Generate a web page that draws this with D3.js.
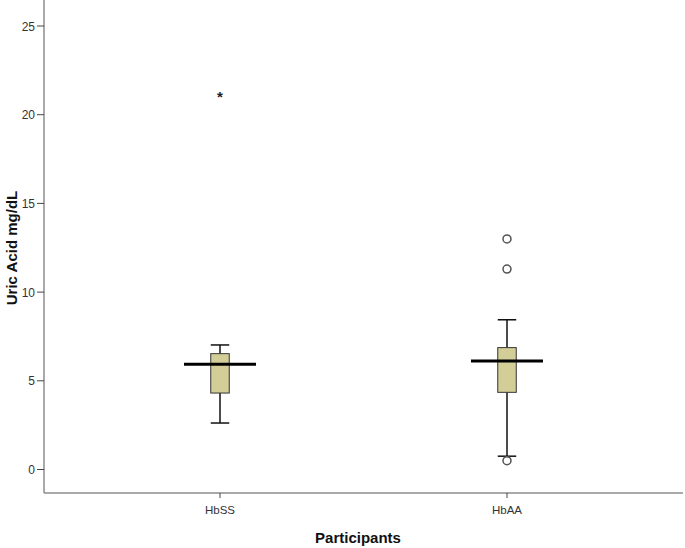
<!DOCTYPE html>
<html>
<head>
<meta charset="utf-8">
<script src="https://cdn.jsdelivr.net/npm/d3@7"></script>
<style>
  body { margin: 0; background: #fff; }
  text { font-family: "Liberation Sans", Arial, sans-serif; }
</style>
</head>
<body>
<svg id="chart" width="685" height="548"></svg>
<script>
// groups and box stats
var groups = ["HbSS", "HbAA"];
var whiskerLow = [2.62, 0.75];
var q1 = [4.31, 4.35];
var medians = [5.93, 6.12];
var q3 = [6.53, 6.87];
var whiskerHigh = [7.02, 8.44];
// outliers: circles, extremes: stars
var outliers = [[], [13.0, 11.3, 0.5]];
var extremes = [[21.05], []];
var yTicks = [0, 5, 10, 15, 20, 25];

var svg = d3.select("#chart");

var x = d3.scalePoint()
    .domain(groups)
    .range([220, 507]);

var y = d3.scaleLinear()
    .domain([0, 25])
    .range([469.5, 26]);

// axes lines
svg.append("line")
    .attr("x1", 44).attr("x2", 44)
    .attr("y1", 0).attr("y2", 493)
    .attr("stroke", "#8c8c8c").attr("stroke-width", 1.5);
svg.append("line")
    .attr("x1", 44).attr("x2", 683)
    .attr("y1", 493).attr("y2", 493)
    .attr("stroke", "#8c8c8c").attr("stroke-width", 1.5);

// y ticks
var yg = svg.append("g").attr("id", "yaxis");
yg.selectAll("line")
    .data(yTicks).enter()
    .append("line")
    .attr("x1", 37).attr("x2", 44)
    .attr("y1", function(d) { return y(d); })
    .attr("y2", function(d) { return y(d); })
    .attr("stroke", "#444").attr("stroke-width", 1);
yg.selectAll("text")
    .data(yTicks).enter()
    .append("text")
    .attr("x", 35)
    .attr("y", function(d) { return y(d) + 4.5; })
    .attr("text-anchor", "end")
    .attr("font-size", 12)
    .attr("fill", "#333")
    .text(function(d) { return d; });

// x ticks
var xg = svg.append("g").attr("id", "xaxis");
xg.selectAll("line")
    .data(groups).enter()
    .append("line")
    .attr("x1", function(d) { return x(d); })
    .attr("x2", function(d) { return x(d); })
    .attr("y1", 493).attr("y2", 498)
    .attr("stroke", "#444");
xg.selectAll("text")
    .data(groups).enter()
    .append("text")
    .attr("x", function(d) { return x(d); })
    .attr("y", 514)
    .attr("text-anchor", "middle")
    .attr("font-size", 11.5)
    .attr("fill", "#333")
    .text(function(d) { return d; });

// axis titles
svg.append("text")
    .attr("x", 358).attr("y", 543)
    .attr("text-anchor", "middle")
    .attr("font-size", 15).attr("font-weight", "bold")
    .attr("fill", "#111")
    .text("Participants");
svg.append("text")
    .attr("transform", "translate(17,248) rotate(-90)")
    .attr("text-anchor", "middle")
    .attr("font-size", 15).attr("font-weight", "bold")
    .attr("fill", "#111")
    .text("Uric Acid mg/dL");

// boxes
var boxW = 18.5, capW = 18.5, medW = 72;
var boxes = svg.append("g").attr("id", "boxes")
    .selectAll("g")
    .data(groups).enter()
    .append("g")
    .attr("class", "box");

boxes.each(function(d, i) {
    var g = d3.select(this);
    var cx = x(d);

    // whiskers
    g.append("line")
        .attr("x1", cx).attr("x2", cx)
        .attr("y1", y(whiskerHigh[i])).attr("y2", y(q3[i]))
        .attr("stroke", "#111").attr("stroke-width", 1.5);
    g.append("line")
        .attr("x1", cx).attr("x2", cx)
        .attr("y1", y(q1[i])).attr("y2", y(whiskerLow[i]))
        .attr("stroke", "#111").attr("stroke-width", 1.5);
    [whiskerHigh[i], whiskerLow[i]].forEach(function(v) {
        g.append("line")
            .attr("x1", cx - capW / 2).attr("x2", cx + capW / 2)
            .attr("y1", y(v)).attr("y2", y(v))
            .attr("stroke", "#111").attr("stroke-width", 1.5);
    });

    g.append("rect")
        .attr("x", cx - boxW / 2)
        .attr("y", y(q3[i]))
        .attr("width", boxW)
        .attr("height", y(q1[i]) - y(q3[i]))
        .attr("fill", "#d3ce97")
        .attr("stroke", "#333").attr("stroke-width", 1);

    g.append("line")
        .attr("x1", cx - medW / 2).attr("x2", cx + medW / 2)
        .attr("y1", y(medians[i])).attr("y2", y(medians[i]))
        .attr("stroke", "#000").attr("stroke-width", 3);

    g.selectAll("circle")
        .data(outliers[i]).enter()
        .append("circle")
        .attr("cx", cx).attr("cy", function(v) { return y(v); })
        .attr("r", 4)
        .attr("fill", "#fff")
        .attr("stroke", "#555").attr("stroke-width", 1.5);

    // extreme value drawn as an asterisk
    g.selectAll("text.star")
        .data(extremes[i]).enter()
        .append("text")
        .attr("class", "star")
        .attr("x", cx)
        .attr("y", function(v) { return y(v) + 6; })
        .attr("text-anchor", "middle")
        .attr("font-size", 15)
        .attr("font-weight", "bold")
        .attr("fill", "#222")
        .text("*");
});
</script>
</body>
</html>
